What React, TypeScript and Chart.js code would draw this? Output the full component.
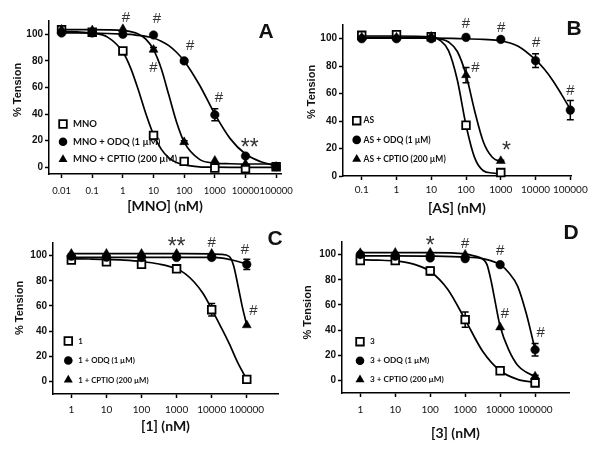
import React, { useEffect, useRef } from "react";
import { Chart, registerables } from "chart.js";
Chart.register(...registerables);

// ---------------- shared ----------------
const Y_TICKS = [0, 20, 40, 60, 80, 100];
const Y_TITLE = "% Tension";

// ---------------- Panel A ----------------
const A_X = [0.01, 0.1, 1, 10, 100, 1000, 10000, 100000];
const A_MNO = [103.5, 101.5, 87.5, 24, 4.5, -0.5, -1, 0.5];
const A_MNO_ERR = [0, 0, 2, 2, 1, 0, 0, 0];
const A_ODQ = [101, 101, 100, 99.5, 80, 39.5, 8.5, 0.5];
const A_ODQ_ERR = [0, 0, 0, 0, 1.5, 4.5, 1, 0];
const A_CPTIO = [103.5, 103, 104, 88.5, 19, 5, 2.5, 0.5];
const A_CPTIO_ERR = [0, 0, 0, 1.5, 1, 0, 0, 0];
const A_CURVE_X = [0.01, 0.0316, 0.1, 0.316, 1, 1.78, 3.16, 5.62, 10, 17.8, 31.6, 56.2, 100, 316, 1000, 3162, 10000, 31623, 100000];
const A_MNO_CURVE = [102, 101.8, 101, 97.9, 86.7, 74.8, 58.5, 40.3, 24.6, 13.7, 7.1, 3.6, 1.8, 0.4, 0.1, 0, 0, 0, 0];
const A_ODQ_CURVE = [101, 101, 100.9, 100.6, 100.2, 99.9, 99.2, 98.5, 97.2, 94.8, 91.5, 86.5, 80, 61.9, 40, 21.6, 10, 4.2, 1.2];
const A_CPTIO_CURVE = [103.5, 103.5, 103.5, 103.4, 102.9, 102, 100.3, 96.4, 88.5, 74.3, 54.3, 34.1, 19, 6.0, 3.2, 2.7, 2.5, 2.5, 2.5];
const A_TICKS = [0.01, 0.1, 1, 10, 100, 1000, 10000, 100000];
const A_TICK_LABELS = ["0.01", "0.1", "1", "10", "100", "1000", "10000", "100000"];
const A_LEGEND = ["MNO", "MNO + ODQ (1 µM)", "MNO + CPTIO (200 µM)"];
const A_MARK_TEXT = ["#", "#", "#", "#", "#", "**"];
const A_MARK_X = [1.25, 13, 158, 10, 1350, 13800];
const A_MARK_Y = [113.5, 112.4, 92.5, 76, 53.4, 19.5];

// ---------------- Panel B ----------------
const B_X = [0.1, 1, 10, 100, 1000, 10000, 100000];
const B_AS = [102.5, 103, 101.5, 37, 2.5];
const B_AS_ERR = [0, 0, 0, 2, 1];
const B_ODQ = [100, 100, 100, 101, 99.5, 84, 48];
const B_ODQ_ERR = [0, 0, 0, 0, 0, 5, 7];
const B_CPTIO = [101, 101, 101.5, 73.5, 11];
const B_CPTIO_ERR = [0, 0, 0, 5.5, 0.5];
const B_CURVE_X = [0.1, 1, 10, 17.8, 31.6, 56.2, 100, 178, 316, 562, 1000];
const B_AS_CURVE = [102, 102, 101.2, 98.9, 91.1, 69.9, 37, 13.2, 3.8, 2.2, 1.5];
const B_CPTIO_CURVE = [101, 101, 100.7, 99.9, 97.6, 90.7, 73.7, 47.2, 24.8, 13.8, 10.2];
const B_ODQ_CURVE_X = [0.1, 1, 10, 100, 316, 1000, 3162, 10000, 17783, 31623, 56234, 100000];
const B_ODQ_CURVE = [100.5, 100.5, 100.4, 100, 99.5, 98.5, 94.5, 84.6, 77.9, 69.4, 59.3, 48.5];
const B_TICKS = [0.1, 1, 10, 100, 1000, 10000, 100000];
const B_TICK_LABELS = ["0.1", "1", "10", "100", "1000", "10000", "100000"];
const B_LEGEND = ["AS", "AS + ODQ (1 µM)", "AS + CPTIO (200 µM)"];
const B_MARK_TEXT = ["#", "#", "#", "#", "#", "*"];
const B_MARK_X = [100, 1020, 186, 10500, 100000, 1450];
const B_MARK_Y = [111.5, 109, 79.7, 98, 62.7, 22.5];

// ---------------- Panel C ----------------
const C_X = [1, 10, 100, 1000, 10000, 100000];
const C_ONE = [96.5, 95, 93, 89.5, 57, 1.6];
const C_ONE_ERR = [0, 1, 1, 2, 5, 2];
const C_ODQ = [99.5, 98.7, 98.5, 98.5, 98.5, 93];
const C_ODQ_ERR = [0, 0, 0, 0, 0, 4];
const C_CPTIO = [101.5, 101.5, 101.5, 101.5, 101.5, 44.7];
const C_CPTIO_ERR = [0, 0, 0, 0, 0, 0];
const C_ONE_CURVE_X = [1, 3.16, 10, 31.6, 100, 316, 1000, 1778, 3162, 5623, 10000, 17783, 31623, 56234, 100000];
const C_ONE_CURVE = [97.5, 97.3, 97, 96.4, 95.3, 93.3, 89.5, 85.5, 79, 70, 57.5, 44, 30, 14.5, 1.6];
const C_ODQ_CURVE_X = [1, 10, 100, 1000, 10000, 17783, 31623, 56234, 100000];
const C_ODQ_CURVE = [98.6, 98.6, 98.6, 98.6, 98.5, 98.2, 97, 95.3, 93.3];
const C_CPTIO_CURVE_X = [1, 10, 100, 1000, 10000, 17783, 31623, 42170, 56234, 74989, 100000];
const C_CPTIO_CURVE = [101.5, 101.5, 101.5, 101.5, 101.4, 101, 99.4, 92, 76, 59, 44.7];
const C_TICKS = [1, 10, 100, 1000, 10000, 100000];
const C_TICK_LABELS = ["1", "10", "100", "1000", "10000", "100000"];
const C_LEGEND = ["1", "1 + ODQ (1 µM)", "1 + CPTIO (200 µM)"];
const C_MARK_TEXT = ["**", "#", "#", "#"];
const C_MARK_X = [1000, 10000, 89000, 155000];
const C_MARK_Y = [112, 111, 105.9, 56.7];

// ---------------- Panel D ----------------
const D_X = [1, 10, 100, 1000, 10000, 100000];
const D_THREE = [95.2, 95.2, 87, 48.3, 7.7, -2];
const D_THREE_ERR = [0, 0, 3, 6, 2, 0];
const D_ODQ = [100, 98.7, 97.3, 96.8, 92, 24.4];
const D_ODQ_ERR = [0, 0, 0, 0, 0, 5];
const D_CPTIO = [101.3, 101.5, 101.5, 100, 42.2, 3.2];
const D_CPTIO_ERR = [0, 0, 0, 0, 0, 1];
const D_THREE_CURVE_X = [1, 3.16, 10, 31.6, 100, 316, 1000, 3162, 10000, 31623, 100000];
const D_THREE_CURVE = [95.9, 95.6, 94.9, 92.6, 86.6, 72.5, 48.3, 23.2, 7.7, 0.85, -1.7];
const D_ODQ_CURVE_X = [1, 10, 100, 1000, 3162, 5623, 10000, 17783, 31623, 56234, 100000];
const D_ODQ_CURVE = [99, 99, 98.8, 98, 96.8, 95, 92, 85.5, 75, 53, 24.4];
const D_CPTIO_CURVE_X = [1, 10, 100, 1000, 1778, 3162, 4217, 5623, 7499, 10000, 17783, 31623, 56234, 100000];
const D_CPTIO_CURVE = [101.5, 101.5, 101.5, 100.5, 99, 96.5, 92, 78, 60, 43, 24, 12, 6.5, 3.2];
const D_TICKS = [1, 10, 100, 1000, 10000, 100000];
const D_TICK_LABELS = ["1", "10", "100", "1000", "10000", "100000"];
const D_LEGEND = ["3", "3 + ODQ (1 µM)", "3 + CPTIO (200 µM)"];
const D_MARK_TEXT = ["*", "#", "#", "#", "#"];
const D_MARK_X = [100, 1000, 10000, 13800, 145000];
const D_MARK_Y = [112, 109.3, 104, 53.6, 39];

const STYLES = ["rect", "circle", "triangle"];

type PanelDef = {
  id: string;
  ox: number; oy: number; w: number; h: number;
  left: number; right: number; top: number; bottom: number;
  yMin: number; yMax: number; xMinLog: number; xMaxLog: number;
  tickPad: number; tickFont: number; titlePad: number; xTitle: string;
  yTitleX: number; yTitleY: number; letterX: number; letterY: number;
  legendX: number; legendTextX: number; legendY: number; legendStep: number; legendFont: number;
  ticks: number[]; tickLabels: string[]; legend: string[];
  xs: number[][]; ys: number[][]; errs: number[][];
  curveXs: number[][]; curveYs: number[][];
  markText: string[]; markX: number[]; markY: number[];
};

const PANELS: PanelDef[] = [
  {
    id: "A", ox: 0, oy: 0, w: 300, h: 225,
    left: 49, right: 285, top: 21, bottom: 174,
    yMin: -5, yMax: 110, xMinLog: -2.41, xMaxLog: 5.16,
    tickPad: 7, tickFont: 9.5, titlePad: 10, xTitle: "[MNO] (nM)",
    yTitleX: 18, yTitleY: 90, letterX: 266, letterY: 30,
    legendX: 63, legendTextX: 73, legendY: 124, legendStep: 17.7, legendFont: 9.5,
    ticks: A_TICKS, tickLabels: A_TICK_LABELS, legend: A_LEGEND,
    xs: [A_X, A_X, A_X], ys: [A_MNO, A_ODQ, A_CPTIO], errs: [A_MNO_ERR, A_ODQ_ERR, A_CPTIO_ERR],
    curveXs: [A_CURVE_X, A_CURVE_X, A_CURVE_X], curveYs: [A_MNO_CURVE, A_ODQ_CURVE, A_CPTIO_CURVE],
    markText: A_MARK_TEXT, markX: A_MARK_X, markY: A_MARK_Y,
  },
  {
    id: "B", ox: 300, oy: 0, w: 300, h: 225,
    left: 343, right: 571, top: 25, bottom: 176,
    yMin: 0, yMax: 110, xMinLog: -1.539, xMaxLog: 5.02,
    tickPad: 4, tickFont: 10, titlePad: 8.6, xTitle: "[AS] (nM)",
    yTitleX: 311.7, yTitleY: 92, letterX: 574, letterY: 27.5,
    legendX: 356.7, legendTextX: 363.5, legendY: 120.7, legendStep: 19.2, legendFont: 8.5,
    ticks: B_TICKS, tickLabels: B_TICK_LABELS, legend: B_LEGEND,
    xs: [B_X, B_X, B_X], ys: [B_AS, B_ODQ, B_CPTIO], errs: [B_AS_ERR, B_ODQ_ERR, B_CPTIO_ERR],
    curveXs: [B_CURVE_X, B_ODQ_CURVE_X, B_CURVE_X], curveYs: [B_AS_CURVE, B_ODQ_CURVE, B_CPTIO_CURVE],
    markText: B_MARK_TEXT, markX: B_MARK_X, markY: B_MARK_Y,
  },
  {
    id: "C", ox: 0, oy: 215, w: 300, h: 240,
    left: 53, right: 278, top: 243, bottom: 394,
    yMin: -10, yMax: 110, xMinLog: -0.504, xMaxLog: 5.89,
    tickPad: 6, tickFont: 10, titlePad: 20, xTitle: "[1] (nM)",
    yTitleX: 20, yTitleY: 308, letterX: 275, letterY: 237.5,
    legendX: 68.3, legendTextX: 78.3, legendY: 341, legendStep: 19.5, legendFont: 7.8,
    ticks: C_TICKS, tickLabels: C_TICK_LABELS, legend: C_LEGEND,
    xs: [C_X, C_X, C_X], ys: [C_ONE, C_ODQ, C_CPTIO], errs: [C_ONE_ERR, C_ODQ_ERR, C_CPTIO_ERR],
    curveXs: [C_ONE_CURVE_X, C_ODQ_CURVE_X, C_CPTIO_CURVE_X], curveYs: [C_ONE_CURVE, C_ODQ_CURVE, C_CPTIO_CURVE],
    markText: C_MARK_TEXT, markX: C_MARK_X, markY: C_MARK_Y,
  },
  {
    id: "D", ox: 300, oy: 215, w: 300, h: 240,
    left: 342, right: 569, top: 242, bottom: 393,
    yMin: -10, yMax: 110, xMinLog: -0.506, xMaxLog: 5.97,
    tickPad: 7, tickFont: 10, titlePad: 13.6, xTitle: "[3] (nM)",
    yTitleX: 308.3, yTitleY: 312.5, letterX: 571, letterY: 231.5,
    legendX: 360, legendTextX: 370, legendY: 341.7, legendStep: 19, legendFont: 8.2,
    ticks: D_TICKS, tickLabels: D_TICK_LABELS, legend: D_LEGEND,
    xs: [D_X, D_X, D_X], ys: [D_THREE, D_ODQ, D_CPTIO], errs: [D_THREE_ERR, D_ODQ_ERR, D_CPTIO_ERR],
    curveXs: [D_THREE_CURVE_X, D_ODQ_CURVE_X, D_CPTIO_CURVE_X], curveYs: [D_THREE_CURVE, D_ODQ_CURVE, D_CPTIO_CURVE],
    markText: D_MARK_TEXT, markX: D_MARK_X, markY: D_MARK_Y,
  },
];

function drawMarker(ctx: CanvasRenderingContext2D, style: string, x: number, y: number) {
  ctx.save();
  ctx.strokeStyle = "#000";
  ctx.fillStyle = "#000";
  ctx.beginPath();
  if (style === "rect") {
    ctx.fillStyle = "#fff";
    ctx.lineWidth = 1.8;
    ctx.rect(x - 3.8, y - 3.8, 7.6, 7.6);
    ctx.fill();
    ctx.stroke();
  } else if (style === "circle") {
    ctx.arc(x, y, 4.3, 0, Math.PI * 2);
    ctx.fill();
  } else {
    const r = 5.2;
    ctx.moveTo(x, y - r);
    ctx.lineTo(x + r * 0.866, y + r * 0.5);
    ctx.lineTo(x - r * 0.866, y + r * 0.5);
    ctx.closePath();
    ctx.fill();
  }
  ctx.restore();
}

const AXIS_GRID = {
  display: true,
  drawOnChartArea: false,
  drawTicks: true,
  tickLength: 4,
  tickWidth: 1.5,
  tickColor: "#000",
};
const AXIS_BORDER = { display: true, color: "#000", width: 1.5 };

function buildConfig(p: PanelDef): any {
  const markerSets: any[] = [];
  // dataset index 0 is drawn last (on top): triangle, circle over square
  for (const k of [2, 1, 0]) {
    const style = STYLES[k];
    const r = style === "rect" ? 5.4 : style === "circle" ? 4.3 : 5.2;
    markerSets.push({
      label: p.legend[k],
      data: p.ys[k].map((v, i) => ({ x: p.xs[k][i], y: v })),
      errors: p.errs[k],
      showLine: false,
      pointStyle: style,
      pointRadius: r,
      pointHoverRadius: r,
      pointBackgroundColor: style === "rect" ? "#fff" : "#000",
      pointBorderColor: "#000",
      pointBorderWidth: style === "rect" ? 1.8 : 0.5,
      clip: false,
    });
  }
  const curveSets = p.curveYs.map((cy, k) => ({
    label: p.legend[k] + " fit",
    data: cy.map((v, i) => ({ x: p.curveXs[k][i], y: v })),
    showLine: true,
    pointRadius: 0,
    pointHoverRadius: 0,
    borderColor: "#000",
    borderWidth: 1.7,
    cubicInterpolationMode: "monotone",
    fill: false,
    clip: false,
  }));

  const errPlugin = {
    id: "errbars" + p.id,
    beforeDatasetsDraw(chart: any) {
      const ctx = chart.ctx;
      const xs = chart.scales.x;
      const ys = chart.scales.y;
      ctx.save();
      ctx.strokeStyle = "#000";
      ctx.lineWidth = 1.5;
      chart.data.datasets.forEach((ds: any) => {
        if (!ds.errors) return;
        ds.data.forEach((pt: any, i: number) => {
          const e = ds.errors[i];
          if (!e) return;
          const px = xs.getPixelForValue(pt.x);
          const y1 = ys.getPixelForValue(pt.y + e);
          const y2 = ys.getPixelForValue(pt.y - e);
          ctx.beginPath();
          ctx.moveTo(px, y1);
          ctx.lineTo(px, y2);
          ctx.moveTo(px - 3.5, y1);
          ctx.lineTo(px + 3.5, y1);
          ctx.moveTo(px - 3.5, y2);
          ctx.lineTo(px + 3.5, y2);
          ctx.stroke();
        });
      });
      ctx.restore();
    },
  };

  const textPlugin = {
    id: "texts" + p.id,
    afterDraw(chart: any) {
      const ctx = chart.ctx;
      const xs = chart.scales.x;
      const ys = chart.scales.y;
      ctx.save();
      // y-axis title
      ctx.save();
      ctx.translate(p.yTitleX - p.ox, p.yTitleY - p.oy);
      ctx.rotate(-Math.PI / 2);
      ctx.font = "bold 11px 'Liberation Sans', Arial, sans-serif";
      ctx.fillStyle = "#111";
      ctx.textAlign = "center";
      ctx.textBaseline = "middle";
      ctx.fillText(Y_TITLE, 0, 0);
      ctx.restore();
      // panel letter
      ctx.font = "bold 21px 'Liberation Sans', Arial, sans-serif";
      ctx.fillStyle = "#111";
      ctx.textAlign = "center";
      ctx.textBaseline = "alphabetic";
      ctx.fillText(p.id, p.letterX - p.ox, p.letterY - p.oy + 0.36 * 21);
      // significance marks
      p.markText.forEach((t, i) => {
        const px = xs.getPixelForValue(p.markX[i]);
        const py = ys.getPixelForValue(p.markY[i]);
        ctx.fillStyle = "#333";
        ctx.textAlign = "center";
        ctx.textBaseline = "alphabetic";
        if (t.indexOf("*") >= 0) {
          ctx.font = "23px 'Liberation Sans', Arial, sans-serif";
          ctx.fillText(t, px, py + 0.58 * 23);
        } else {
          ctx.font = "15px 'Liberation Sans', Arial, sans-serif";
          ctx.fillText(t, px, py + 0.36 * 15);
        }
      });
      // legend
      p.legend.forEach((lab, k) => {
        const ly = p.legendY + k * p.legendStep - p.oy;
        drawMarker(ctx, STYLES[k], p.legendX - p.ox, ly);
        ctx.font = `bold ${p.legendFont}px Lato, 'Open Sans', sans-serif`;
        ctx.fillStyle = "#111";
        ctx.textAlign = "left";
        ctx.textBaseline = "middle";
        ctx.fillText(lab, p.legendTextX - p.ox, ly);
      });
      ctx.restore();
    },
  };

  return {
    type: "scatter",
    data: { datasets: [...markerSets, ...curveSets] },
    options: {
      responsive: false,
      maintainAspectRatio: false,
      animation: false,
      devicePixelRatio: 1,
      events: [],
      layout: {
        padding: { left: 0, top: p.top - p.oy, right: p.ox + p.w - p.right, bottom: 0 },
      },
      plugins: {
        legend: { display: false },
        tooltip: { enabled: false },
        title: { display: false },
      },
      scales: {
        x: {
          type: "logarithmic",
          min: Math.pow(10, p.xMinLog),
          max: Math.pow(10, p.xMaxLog),
          afterBuildTicks: (s: any) => {
            s.ticks = p.ticks.map((v) => ({ value: v }));
          },
          afterFit: (s: any) => {
            s.height = p.oy + p.h - p.bottom;
          },
          ticks: {
            autoSkip: false,
            maxRotation: 0,
            minRotation: 0,
            padding: p.tickPad,
            color: "#111",
            font: { family: "Lato, 'Open Sans', sans-serif", size: p.tickFont },
            callback: (v: any) => {
              const i = p.ticks.findIndex((t) => Math.abs(t - v) / t < 1e-6);
              return i >= 0 ? p.tickLabels[i] : "";
            },
          },
          grid: AXIS_GRID,
          border: AXIS_BORDER,
          title: {
            display: true,
            text: p.xTitle,
            color: "#111",
            font: { family: "Lato, 'Open Sans', sans-serif", size: 14, weight: "bold" },
            padding: { top: 0, bottom: p.titlePad },
          },
        },
        y: {
          type: "linear",
          min: p.yMin,
          max: p.yMax,
          afterBuildTicks: (s: any) => {
            s.ticks = Y_TICKS.map((v) => ({ value: v }));
          },
          afterFit: (s: any) => {
            s.width = p.left - p.ox;
          },
          ticks: {
            padding: 2,
            color: "#111",
            font: { family: "'Liberation Sans', Arial, sans-serif", size: 10, weight: "bold" },
          },
          grid: AXIS_GRID,
          border: AXIS_BORDER,
        },
      },
    },
    plugins: [errPlugin, textPlugin],
  };
}

export default function App() {
  const r0 = useRef<HTMLCanvasElement>(null);
  const r1 = useRef<HTMLCanvasElement>(null);
  const r2 = useRef<HTMLCanvasElement>(null);
  const r3 = useRef<HTMLCanvasElement>(null);
  const refs = [r0, r1, r2, r3];

  useEffect(() => {
    const charts = PANELS.map((p, i) => new Chart(refs[i].current as HTMLCanvasElement, buildConfig(p)));
    return () => charts.forEach((c) => c.destroy());
  }, []);

  return (
    <div style={{ position: "fixed", left: 0, top: 0, width: 600, height: 455, background: "#fff", overflow: "hidden" }}>
      {PANELS.map((p, i) => (
        <canvas
          key={p.id}
          ref={refs[i]}
          width={p.w}
          height={p.h}
          style={{ position: "absolute", left: p.ox, top: p.oy, width: p.w, height: p.h }}
        />
      ))}
    </div>
  );
}
